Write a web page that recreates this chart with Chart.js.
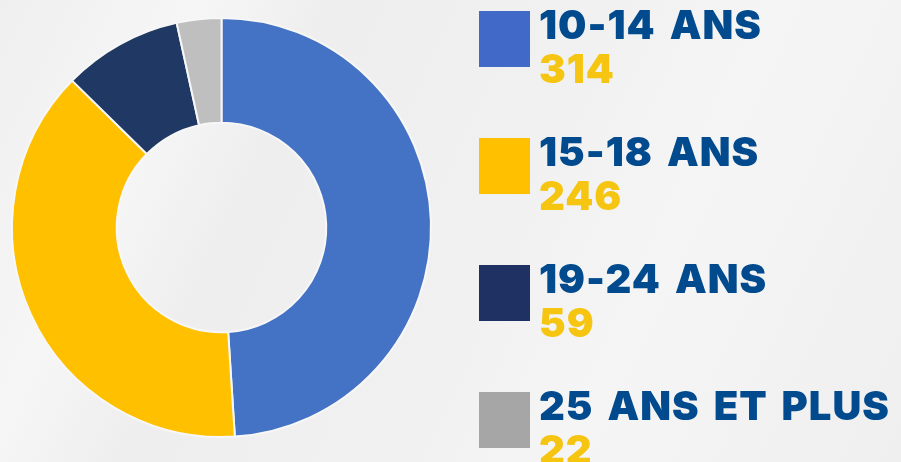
<!DOCTYPE html>
<html>
<head>
<meta charset="utf-8">
<script src="https://cdn.jsdelivr.net/npm/chart.js@4.4.1/dist/chart.umd.min.js"></script>
<style>
  html, body { margin: 0; padding: 0; }
  body {
    width: 901px; height: 462px; overflow: hidden;
    background: linear-gradient(115deg, #efefef 0%, #f6f6f6 18%, #eeeeee 30%, #f1f1f1 55%, #f5f5f5 70%, #efefef 100%);
  }
  #wrap { position: absolute; left: 0; top: 0; width: 901px; height: 462px; }
</style>
</head>
<body>
<div id="wrap"><canvas id="donut" width="901" height="462"></canvas></div>
<script>
const labels = ['10-14 ANS', '15-18 ANS', '19-24 ANS', '25 ANS ET PLUS'];
const counts = [314, 246, 59, 22];
const sliceColors = ['#4472C4', '#FFC000', '#1F3864', '#BFBFBF'];
const boxColors = ['#4169C8', '#FFC000', '#1F3163', '#A6A6A6'];

// legend drawn on the same canvas, right of the ring
const sideLegend = {
  id: 'sideLegend',
  afterDraw(chart) {
    const ctx = chart.ctx;
    ctx.save();
    labels.forEach((name, i) => {
      const y = 39 + i * 127;
      ctx.fillStyle = boxColors[i];
      ctx.fillRect(479, y - 28, 51, 56);
      ctx.textBaseline = 'alphabetic';
      ctx.textAlign = 'left';
      ctx.font = '900 40px Inter';
      ctx.letterSpacing = '1px';
      ctx.wordSpacing = '5px';
      ctx.fillStyle = '#014A8E';
      ctx.fillText(name, 539, y);
      ctx.fillStyle = '#F5C511';
      ctx.fillText(String(counts[i]), 539, y + 44);
    });
    ctx.restore();
  }
};

new Chart('donut', {
  type: 'doughnut',
  data: {
    labels: labels,
    datasets: [{
      data: counts,
      backgroundColor: sliceColors,
      borderColor: '#f7f7f7',
      borderWidth: 2
    }]
  },
  options: {
    responsive: false,
    animation: false,
    cutout: '50%',
    layout: { padding: { left: 11, top: 17, right: 469, bottom: 24 } },
    plugins: {
      legend: { display: false },
      tooltip: { enabled: false }
    }
  },
  plugins: [sideLegend]
});
</script>
</body>
</html>
